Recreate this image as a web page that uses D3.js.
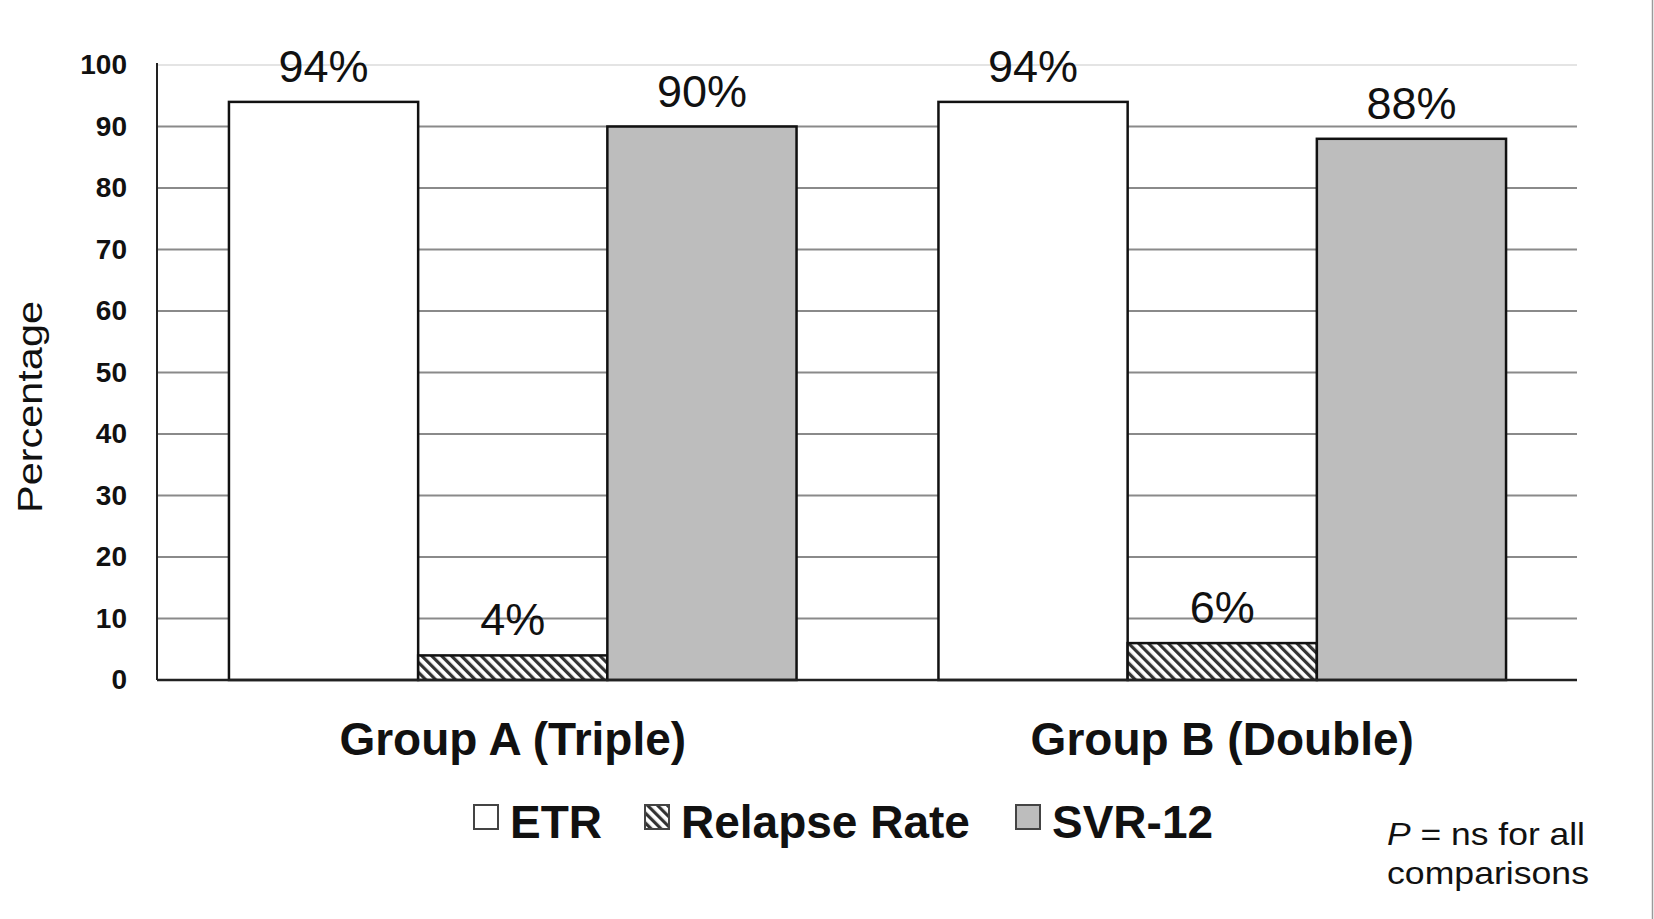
<!DOCTYPE html>
<html>
<head>
<meta charset="utf-8">
<script src="https://cdn.jsdelivr.net/npm/d3@7"></script>
<style>
  html, body { margin: 0; padding: 0; background: #fff; }
  svg { display: block; }
  text { font-family: Arial, "Liberation Sans", Helvetica, sans-serif; fill: #111; }
</style>
</head>
<body>
<svg id="chart" width="1654" height="919"></svg>
<script>
// Treatment response by regimen
const groups = ["Group A (Triple)", "Group B (Double)"];
const seriesNames = ["ETR", "Relapse Rate", "SVR-12"];
const etr = [94, 94];
const relapse = [4, 6];
const svr = [90, 88];
const yTicks = [0, 10, 20, 30, 40, 50, 60, 70, 80, 90, 100];

const seriesValues = [etr, relapse, svr];
const rows = groups.map((g, gi) => ({
  group: g,
  values: seriesNames.map((s, si) => ({ series: s, value: seriesValues[si][gi] }))
}));

const svg = d3.select("#chart");
const W = 1654, H = 919;
const plot = { left: 157, right: 1577, top: 65, bottom: 680 };

// diagonal hatch for the relapse series
const defs = svg.append("defs");
const hatch = defs.append("pattern")
  .attr("id", "hatch")
  .attr("patternUnits", "userSpaceOnUse")
  .attr("width", 7).attr("height", 7)
  .attr("patternTransform", "rotate(-45)");
hatch.append("rect").attr("width", 7).attr("height", 7).attr("fill", "#fff");
hatch.append("rect").attr("x", 0).attr("width", 3.2).attr("height", 7).attr("fill", "#333");

const fills = { "ETR": "#ffffff", "Relapse Rate": "url(#hatch)", "SVR-12": "#bdbdbd" };

const y = d3.scaleLinear().domain([0, 100]).range([plot.bottom, plot.top]);
const x0 = d3.scaleBand().domain(groups).range([plot.left + 1, plot.right]).paddingInner(0.2).paddingOuter(0.1);
const x1 = d3.scaleBand().domain(seriesNames).range([0, x0.bandwidth()]).padding(0);

// horizontal gridlines
svg.append("g").selectAll("line").data(yTicks.filter(t => t > 0)).join("line")
  .attr("x1", plot.left).attr("x2", plot.right)
  .attr("y1", d => y(d)).attr("y2", d => y(d))
  .attr("stroke", d => d === 100 ? "#e4e4e4" : "#8a8a8a")
  .attr("stroke-width", 2);

// y axis labels
const yAxis = svg.append("g")
  .attr("transform", `translate(${plot.left},0)`)
  .call(d3.axisLeft(y).tickValues(yTicks).tickSize(0).tickPadding(30));
yAxis.select(".domain").remove();
yAxis.selectAll("text")
  .style("font-size", "28px").style("font-weight", "bold")
  .style("font-family", "Arial, 'Liberation Sans', sans-serif").attr("fill", "#111");

// bars
const gGroups = svg.append("g").selectAll("g").data(rows).join("g")
  .attr("transform", d => `translate(${x0(d.group)},0)`);

gGroups.selectAll("rect").data(d => d.values).join("rect")
  .attr("x", d => x1(d.series))
  .attr("y", d => y(d.value))
  .attr("width", x1.bandwidth())
  .attr("height", d => y(0) - y(d.value))
  .attr("fill", d => fills[d.series])
  .attr("stroke", "#111").attr("stroke-width", 2.5);

// value labels
gGroups.selectAll("text.val").data(d => d.values).join("text")
  .attr("class", "val")
  .attr("x", d => x1(d.series) + x1.bandwidth() / 2)
  .attr("y", d => y(d.value) - 20)
  .attr("text-anchor", "middle")
  .style("font-size", "45px")
  .text(d => d.value + "%");

// axis lines
svg.append("line").attr("x1", plot.left).attr("x2", plot.left)
  .attr("y1", plot.top - 2).attr("y2", plot.bottom)
  .attr("stroke", "#222").attr("stroke-width", 2);
svg.append("line").attr("x1", plot.left).attr("x2", plot.right)
  .attr("y1", y(0)).attr("y2", y(0))
  .attr("stroke", "#222").attr("stroke-width", 2.5);

// group labels
svg.append("g").selectAll("text").data(groups).join("text")
  .attr("x", d => x0(d) + x0.bandwidth() / 2)
  .attr("y", 755)
  .attr("text-anchor", "middle")
  .style("font-size", "46px").style("font-weight", "bold")
  .text(d => d);

// y axis title
svg.append("text")
  .attr("transform", "translate(42,407) rotate(-90)")
  .attr("text-anchor", "middle")
  .attr("textLength", 212).attr("lengthAdjust", "spacingAndGlyphs")
  .style("font-size", "35px")
  .text("Percentage");

// legend
const legendX = [474, 645, 1016];
const legend = svg.append("g").selectAll("g").data(seriesNames).join("g")
  .attr("transform", (d, i) => `translate(${legendX[i]},805)`);
legend.append("rect")
  .attr("width", 24).attr("height", 24)
  .attr("fill", d => fills[d])
  .attr("stroke", "#444").attr("stroke-width", 2);
legend.append("text")
  .attr("x", 36).attr("y", 33)
  .style("font-size", "46px").style("font-weight", "bold")
  .text(d => d);

// significance note
const note = svg.append("text").attr("x", 1387).attr("y", 845).style("font-size", "32px")
  .attr("textLength", 198).attr("lengthAdjust", "spacingAndGlyphs");
note.append("tspan").style("font-style", "italic").text("P");
note.append("tspan").text(" = ns for all");
svg.append("text").attr("x", 1387).attr("y", 884).style("font-size", "32px")
  .attr("textLength", 202).attr("lengthAdjust", "spacingAndGlyphs")
  .text("comparisons");

// right edge rule
svg.append("line").attr("x1", 1652.5).attr("x2", 1652.5).attr("y1", 0).attr("y2", H)
  .attr("stroke", "#9a9a9a").attr("stroke-width", 1.5);
</script>
</body>
</html>
